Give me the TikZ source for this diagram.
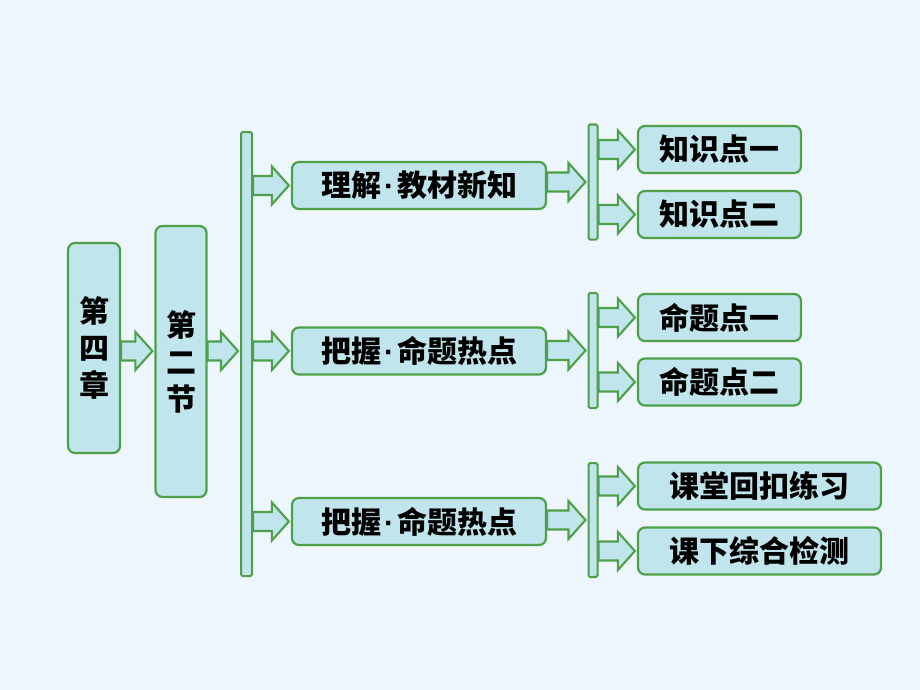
\documentclass[tikz,border=0pt]{standalone}
\usepackage{fontspec}
\setmainfont{Noto Sans CJK SC}
\newfontfamily\dotfont{Liberation Sans}
\usetikzlibrary{calc}
\definecolor{bgc}{RGB}{238,246,253}
\definecolor{boxfill}{RGB}{192,229,237}
\definecolor{boxline}{RGB}{78,160,72}
\newcommand\mdot{\hspace{3pt}{\dotfont\bfseries ·}\hspace{3pt}}
\tikzset{
  cbox/.style={draw=boxline, line width=2.2pt, fill=boxfill, rounded corners=7pt,
    inner sep=0pt, font=\bfseries\fontsize{30}{37}\selectfont, align=center},
  barbox/.style={draw=boxline, line width=2pt, fill=boxfill, rounded corners=1.5pt, inner sep=0pt},
  barrow/.style={draw=boxline, line width=2.1pt, fill=boxfill, line join=miter},
}
\newcommand\blockarrow[2]{%
  \path[barrow] let \p1=(#1), \p2=($(#2)+(-2,0)$) in
    (\x1,\y2+9.5pt) -- (\x2-17pt,\y2+9.5pt) -- (\x2-17pt,\y2+19pt) -- (\x2,\y2)
    -- (\x2-17pt,\y2-19pt) -- (\x2-17pt,\y2-9.5pt) -- (\x1,\y2-9.5pt) -- cycle;}
\begin{document}
\begin{tikzpicture}[x=1pt,y=-1pt]
\useasboundingbox (0,0) rectangle (920,690);
\fill[bgc] (0,0) rectangle (920,690);
% left boxes
\node[cbox, minimum width=52, minimum height=210] (ch) at (94,348) {第\\四\\章};
\node[cbox, minimum width=51, minimum height=271] (sec) at (181,361.5) {第\\二\\节};
\node[barbox, minimum width=11, minimum height=444] (bar1) at (246.5,354) {};
% middle boxes
\node[cbox, minimum width=254, minimum height=47] (m1) at (419,185.5) {理解\mdot 教材新知};
\node[cbox, minimum width=254, minimum height=47] (m2) at (419,351) {把握\mdot 命题热点};
\node[cbox, minimum width=254, minimum height=47] (m3) at (419,521.5) {把握\mdot 命题热点};
% second bars
\node[barbox, minimum width=9, minimum height=115] (b2a) at (593,182) {};
\node[barbox, minimum width=9, minimum height=115] (b2b) at (593,350.5) {};
\node[barbox, minimum width=9, minimum height=114] (b2c) at (593,520) {};
% right boxes
\node[cbox, minimum width=163, minimum height=47] (r1) at (719.5,149.5) {知识点一};
\node[cbox, minimum width=163, minimum height=47] (r2) at (719.5,214.5) {知识点二};
\node[cbox, minimum width=163, minimum height=47] (r3) at (719.5,317.5) {命题点一};
\node[cbox, minimum width=163, minimum height=47] (r4) at (719.5,382) {命题点二};
\node[cbox, minimum width=243, minimum height=47] (r5) at (759.5,486) {课堂回扣练习};
\node[cbox, minimum width=243, minimum height=47] (r6) at (759.5,551) {课下综合检测};
% block arrows
\blockarrow{ch.east}{sec.west |- m2.west}
\blockarrow{sec.east}{bar1.west |- m2.west}
\blockarrow{bar1.east}{m1.west}
\blockarrow{bar1.east}{m2.west}
\blockarrow{bar1.east}{m3.west}
\blockarrow{m1.east}{b2a.west}
\blockarrow{m2.east}{b2b.west}
\blockarrow{m3.east}{b2c.west}
\blockarrow{b2a.east}{r1.west}
\blockarrow{b2a.east}{r2.west}
\blockarrow{b2b.east}{r3.west}
\blockarrow{b2b.east}{r4.west}
\blockarrow{b2c.east}{r5.west}
\blockarrow{b2c.east}{r6.west}
\end{tikzpicture}
\end{document}
